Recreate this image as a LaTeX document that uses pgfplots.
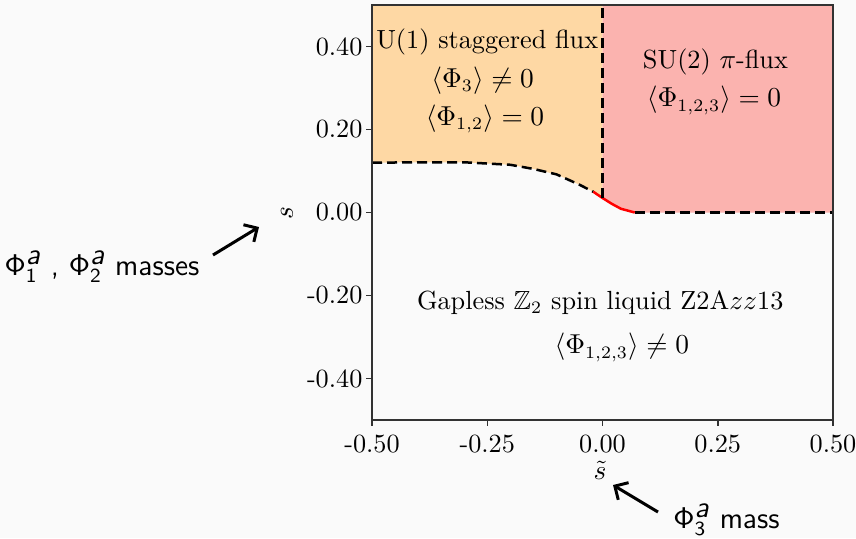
\documentclass[border=0pt]{standalone}
\usepackage{pgfplots}
\pgfplotsset{compat=1.18}
\usepackage{amssymb}
\usetikzlibrary{arrows.meta}
\definecolor{bg}{RGB}{250,250,250}
\definecolor{orfill}{RGB}{254,216,164}
\definecolor{pkfill}{RGB}{251,179,175}
\definecolor{spine}{RGB}{50,50,50}
\begin{document}
\begin{tikzpicture}[font=\fontsize{10.5}{12.5}\selectfont]
\path[use as bounding box, fill=bg] (0,0) rectangle (342.4pt,215.2pt);
\begin{axis}[
  at={(148.8pt,47.2pt)}, anchor=south west,
  scale only axis, width=184.4pt, height=166pt,
  xmin=-0.5, xmax=0.5, ymin=-0.5, ymax=0.5,
  xtick={-0.5,-0.25,0,0.25,0.5},
  xticklabels={-0.50,-0.25,0.00,0.25,0.50},
  ytick={-0.4,-0.2,0,0.2,0.4},
  yticklabels={-0.40,-0.20,0.00,0.20,0.40},
  xtick pos=bottom, ytick pos=left, tick align=outside,
  major tick length=2.3pt,
  tick label style={font=\fontsize{10.5}{12.5}\selectfont},
  yticklabel style={xshift=2pt},
  axis line style={spine, line width=0.6pt},
  tick style={spine, line width=0.6pt},
  axis on top,
]
% orange region
\addplot[fill=orfill, draw=none] coordinates {
  (-0.5,0.5) (-0.5,0.120) (-0.4,0.121) (-0.3,0.121) (-0.2,0.115) (-0.15,0.105)
  (-0.1,0.092) (-0.05,0.067) (-0.02,0.050) (0,0.035) (0,0.5)} -- cycle;
% pink region
\addplot[fill=pkfill, draw=none] coordinates {
  (0,0.5) (0,0.035) (0.02,0.021) (0.04,0.009) (0.07,0.0) (0.5,0.0) (0.5,0.5)} -- cycle;
% boundaries
\addplot[black, line width=1pt, dash pattern=on 4pt off 2pt] coordinates {
  (-0.5,0.120) (-0.4,0.121) (-0.3,0.121) (-0.2,0.115) (-0.15,0.105)
  (-0.1,0.092) (-0.05,0.067) (-0.02,0.050)};
\addplot[red, line width=1pt] coordinates {
  (-0.02,0.050) (0,0.035) (0.02,0.021) (0.04,0.009) (0.07,0.0)};
\addplot[black, line width=1pt, dash pattern=on 4pt off 2pt] coordinates {
  (0,0.035) (0,0.5)};
\addplot[black, line width=1pt, dash pattern=on 4pt off 2pt] coordinates {
  (0.07,0.0) (0.5,0.0)};
% texts
\node at (axis cs:-0.25,0.412) {U(1) staggered flux};
\node at (axis cs:-0.26,0.318) {$\langle\Phi_3\rangle \neq 0$};
\node at (axis cs:-0.255,0.225) {$\langle\Phi_{1,2}\rangle = 0$};
\node at (axis cs:0.245,0.362) {SU(2) $\pi$-flux};
\node at (axis cs:0.242,0.27) {$\langle\Phi_{1,2,3}\rangle = 0$};
\node at (axis cs:-0.005,-0.217) {Gapless $\mathbb{Z}_2$ spin liquid Z2A$zz$13};
\node at (axis cs:0.042,-0.325) {$\langle\Phi_{1,2,3}\rangle \neq 0$};
\end{axis}
% axis labels
\node[rotate=90] at (114.8pt,130pt) {$s$};
\node at (240pt,27.2pt) {$\tilde{s}$};
% annotations
\draw[line width=1.2pt, -{Straight Barb[length=4pt,width=8pt]}] (85.2pt,113.2pt) -- (103.6pt,124.4pt);
\draw[line width=1.2pt, -{Straight Barb[length=4pt,width=8pt]}] (263.2pt,10.4pt) -- (245.2pt,21.2pt);
\node[anchor=base, font=\sffamily\large] at (40.8pt,105.2pt) {$\mathsf{\Phi}^{\textsf{\itshape a}}_{\mathsf{1}}$ , $\mathsf{\Phi}^{\textsf{\itshape a}}_{\mathsf{2}}$ masses};
\node[anchor=base, font=\sffamily\large] at (290.6pt,4pt) {$\mathsf{\Phi}^{\textsf{\itshape a}}_{\mathsf{3}}$ mass};
\end{tikzpicture}
\end{document}
